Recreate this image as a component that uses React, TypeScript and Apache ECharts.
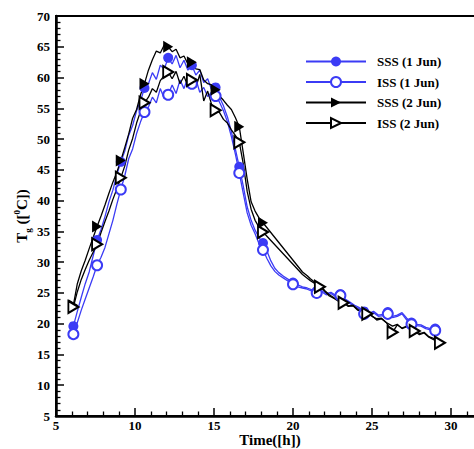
import { useEffect, useRef } from "react";
import * as echarts from "echarts";

const FONT = "Liberation Serif";
const BLUE = "#3b3bf5";
const BLACK = "#000000";

const SERIES_NAMES = ["SSS (1 Jun)", "ISS (1 Jun)", "SSS (2 Jun)", "ISS (2 Jun)"];

// daytime samples (h)
const DAY_T = [
  6.1, 6.35, 6.6, 6.85, 7.1, 7.35, 7.6, 7.85, 8.1, 8.35,
  8.6, 8.85, 9.1, 9.35, 9.6, 9.85, 10.1, 10.35, 10.6, 10.85,
  11.1, 11.35, 11.6, 11.85, 12.1, 12.35, 12.6, 12.85, 13.1, 13.35,
  13.6, 13.85, 14.1, 14.35, 14.6, 14.85, 15.1, 15.35, 15.6, 15.85,
  16.1, 16.35, 16.6, 16.85, 17.1, 17.35, 17.6, 17.85, 18.1,
];
const DAY_MARK_STEP = 6;

const S1_DAY = [
  19.6, 22.0, 24.3, 26.5, 28.4, 31.0, 33.6, 35.3, 37.4, 39.8,
  41.7, 44.2, 46.3, 48.0, 50.6, 52.2, 54.6, 56.2, 58.3, 59.0,
  60.8, 59.7, 62.0, 61.4, 63.2, 62.2, 63.6, 61.6, 62.8, 61.2,
  62.0, 60.4, 61.2, 59.2, 59.8, 58.0, 58.4, 56.8, 55.4, 53.6,
  51.2, 48.4, 45.5, 42.4, 39.0, 36.8, 35.2, 34.0, 33.1,
];
const I1_DAY = [
  18.3, 20.2, 22.2, 24.0, 25.8, 27.6, 29.5, 30.8, 32.4, 34.6,
  36.8, 39.4, 41.8, 44.0, 46.8, 48.4, 50.9, 52.8, 54.4, 55.2,
  56.8, 55.9, 58.2, 56.6, 57.2, 58.8, 57.4, 59.6, 58.2, 60.1,
  59.0, 59.8, 57.6, 58.4, 56.9, 57.6, 57.0, 56.0, 54.6, 52.8,
  50.4, 47.6, 44.5, 41.2, 38.0, 36.0, 34.6, 33.0, 32.0,
];
const S2_DAY = [
  23.0, 26.5, 28.6, 30.3, 32.2, 34.0, 35.8, 37.5, 39.3, 41.2,
  43.0, 44.6, 46.5, 48.6, 50.8, 53.4, 54.8, 57.2, 59.0, 61.2,
  62.9, 64.3, 64.0, 65.3, 65.0, 64.2, 64.6, 63.2, 63.5, 62.2,
  62.5, 61.4, 61.3, 59.6, 59.0, 58.8, 58.0, 57.0, 56.3, 55.5,
  54.8, 53.5, 52.0, 47.8, 43.5, 39.8, 38.3, 37.2, 36.4,
];
const I2_DAY = [
  22.7, 25.2, 27.2, 28.8, 30.3, 31.6, 32.9, 34.8, 36.6, 38.3,
  40.2, 41.9, 43.7, 45.6, 48.2, 50.1, 52.6, 54.5, 55.9, 56.8,
  58.2, 57.6, 59.5, 60.3, 60.9, 59.8, 61.0, 59.0, 60.2, 58.6,
  59.6, 58.4, 60.5, 56.2, 57.8, 55.6, 54.7, 54.3, 53.2, 52.6,
  51.5, 50.6, 49.5, 46.0, 41.5, 38.6, 36.8, 35.7, 34.9,
];

// night samples, 1 Jun
const BLUE_NIGHT_T = [
  18.35, 18.6, 18.85, 19.1, 19.4, 19.7, 20.0, 20.3, 20.6, 20.9,
  21.2, 21.5, 21.8, 22.1, 22.4, 22.7, 23.0, 23.3, 23.6, 23.9,
  24.2, 24.5, 24.8, 25.1, 25.4, 25.7, 26.0, 26.3, 26.6, 26.9,
  27.2, 27.5, 27.8, 28.1, 28.4, 28.7, 29.0, 29.3,
];
const S1_NIGHT = [
  31.8, 30.2, 29.0, 28.3, 27.7, 27.2, 26.7, 26.3, 26.0, 25.8,
  25.5, 25.3, 25.4, 24.9, 25.1, 24.6, 24.8, 24.0, 23.5, 23.0,
  22.6, 22.0, 21.7, 22.0, 21.4, 21.5, 21.9, 21.2, 21.4, 21.8,
  20.9, 20.2, 19.9, 19.8, 19.4, 19.2, 19.2, 19.5,
];
const I1_NIGHT = [
  30.6, 29.4, 28.5, 27.9, 27.4, 26.9, 26.4, 26.0, 25.8, 25.6,
  25.3, 25.0, 25.2, 24.7, 24.9, 24.4, 24.6, 23.8, 23.3, 22.8,
  22.4, 21.6, 21.5, 21.8, 21.2, 21.3, 21.6, 21.0, 21.2, 21.6,
  20.6, 19.9, 19.7, 19.6, 19.2, 19.0, 18.9, 19.3,
];
const BLUE_NIGHT_MARKS = [20.0, 21.5, 23.0, 24.5, 26.0, 27.5, 29.0];

// night samples, 2 Jun
const BLACK_NIGHT_T = [
  20.6, 20.9, 21.1, 21.4, 21.7, 22.0, 22.3, 22.6, 22.9, 23.2,
  23.5, 23.8, 24.1, 24.4, 24.7, 25.0, 25.3, 25.6, 25.9, 26.3,
  26.6, 26.9, 27.2, 27.7, 28.0, 28.3, 28.6, 28.9, 29.3,
];
const S2_NIGHT = [
  28.4, 27.8, 27.3, 26.7, 26.3, 25.4, 24.7, 24.2, 23.8, 23.6,
  22.9, 23.0, 22.3, 22.0, 21.8, 21.2, 20.8, 20.9, 20.2, 19.6,
  19.9, 19.2, 19.5, 19.0, 18.4, 18.6, 17.9, 17.6, 17.1,
];
const I2_NIGHT = [
  28.0, 27.4, 27.0, 26.5, 26.0, 25.3, 24.5, 24.1, 23.6, 23.4,
  22.8, 22.9, 22.2, 21.9, 21.6, 21.3, 20.6, 20.8, 20.2, 18.6,
  19.8, 19.3, 19.6, 18.8, 18.2, 18.5, 17.8, 17.4, 16.9,
];
const BLACK_NIGHT_MARKS = [21.7, 23.2, 24.7, 26.3, 27.7, 29.3];

const X_MIN = 5;
const X_MAX = 35;
const Y_MIN = 5;
const Y_MAX = 70;
const TICK_STEP = 5;

function build(dayV: number[], nightT: number[], nightV: number[], marks: number[]) {
  const pts: any[] = [];
  DAY_T.forEach((t, i) => {
    const item: any = { value: [t, dayV[i]] };
    if (i % DAY_MARK_STEP !== 0) item.symbol = "none";
    pts.push(item);
  });
  nightT.forEach((t, i) => {
    const item: any = { value: [t, nightV[i]] };
    if (!marks.some((m) => Math.abs(m - t) < 1e-6)) item.symbol = "none";
    pts.push(item);
  });
  return pts;
}

function mkSeries(name: string, color: string, symbol: string, size: any, rotate: number, data: any[]) {
  return {
    name,
    type: "line",
    data,
    symbol,
    symbolSize: size,
    symbolRotate: rotate,
    showSymbol: true,
    showAllSymbol: true,
    lineStyle: { color, width: 1.3 },
    itemStyle: { color },
    emphasis: { disabled: true },
    clip: true,
  };
}

const labelStyle = { fontFamily: FONT, fontWeight: "bold" as const, fontSize: 13, color: "#000" };

export default function App() {
  const ref = useRef<HTMLDivElement>(null);
  useEffect(() => {
    const chart = echarts.init(ref.current!, null, { renderer: "svg" });
    const option: any = {
      animation: false,
      backgroundColor: "#fff",
      grid: {
        left: 56,
        top: 16,
        right: 474 - (56 + (X_MAX - X_MIN) * 15.8),
        bottom: 33,
        show: true,
        borderColor: "#000",
        borderWidth: 2,
        outerBoundsMode: "none",
        containLabel: false,
      },
      legend: {
        orient: "vertical",
        left: 305,
        top: 55,
        padding: 0,
        itemWidth: 60,
        itemHeight: 12.5,
        itemGap: 7.5,
        selectedMode: false,
        data: SERIES_NAMES,
        textStyle: { ...labelStyle, padding: [0, 0, 0, 6] },
      },
      xAxis: {
        type: "value",
        min: X_MIN,
        max: X_MAX,
        interval: TICK_STEP,
        axisLine: { show: true, lineStyle: { color: "#000", width: 2.5 } },
        axisTick: { show: true, inside: true, length: 8, lineStyle: { color: "#000", width: 1.5 } },
        minorTick: { show: true, splitNumber: 5, length: 4.5, lineStyle: { color: "#000", width: 1.3 } },
        splitLine: { show: false },
        axisLabel: {
          ...labelStyle,
          margin: 3,
          formatter: (v: number) => (v <= 30 ? String(v) : ""),
        },
      },
      yAxis: {
        type: "value",
        min: Y_MIN,
        max: Y_MAX,
        interval: TICK_STEP,
        axisLine: { show: true, lineStyle: { color: "#000", width: 2.5 } },
        axisTick: { show: true, inside: true, length: 8, lineStyle: { color: "#000", width: 1.5 } },
        minorTick: { show: true, splitNumber: 5, length: 4.5, lineStyle: { color: "#000", width: 1.3 } },
        splitLine: { show: false },
        axisLabel: { ...labelStyle, margin: 6 },
      },
      graphic: [
        {
          type: "text",
          x: 22,
          y: 216,
          rotation: Math.PI / 2,
          style: {
            text: "{m|T}{s|g}{m| ([}{p|0}{m|C])}",
            align: "center",
            verticalAlign: "middle",
            fill: "#000",
            font: `bold 15px ${FONT}`,
            rich: {
              m: { fontFamily: FONT, fontWeight: "bold", fontSize: 15, lineHeight: 20, fill: "#000" },
              s: { fontFamily: FONT, fontWeight: "bold", fontSize: 9, lineHeight: 8, verticalAlign: "bottom", fill: "#000" },
              p: { fontFamily: FONT, fontWeight: "bold", fontSize: 9, lineHeight: 9, verticalAlign: "top", fill: "#000" },
            },
          },
        },
        {
          type: "text",
          x: 270,
          y: 440,
          style: {
            text: "Time([h])",
            align: "center",
            verticalAlign: "middle",
            fill: "#000",
            font: `bold 15px ${FONT}`,
          },
        },
      ],
      series: [
        mkSeries(SERIES_NAMES[0], BLUE, "circle", 10, 0, build(S1_DAY, BLUE_NIGHT_T, S1_NIGHT, BLUE_NIGHT_MARKS)),
        mkSeries(SERIES_NAMES[1], BLUE, "emptyCircle", 10, 0, build(I1_DAY, BLUE_NIGHT_T, I1_NIGHT, BLUE_NIGHT_MARKS)),
        mkSeries(SERIES_NAMES[2], BLACK, "triangle", [12, 10], -90, build(S2_DAY, BLACK_NIGHT_T, S2_NIGHT, [])),
        mkSeries(SERIES_NAMES[3], BLACK, "emptyTriangle", [12, 10], -90, build(I2_DAY, BLACK_NIGHT_T, I2_NIGHT, BLACK_NIGHT_MARKS)),
      ],
    };
    chart.setOption(option);
    return () => chart.dispose();
  }, []);
  return (
    <div
      ref={ref}
      style={{ position: "fixed", left: 0, top: 0, width: 474, height: 449, background: "#fff" }}
    />
  );
}
